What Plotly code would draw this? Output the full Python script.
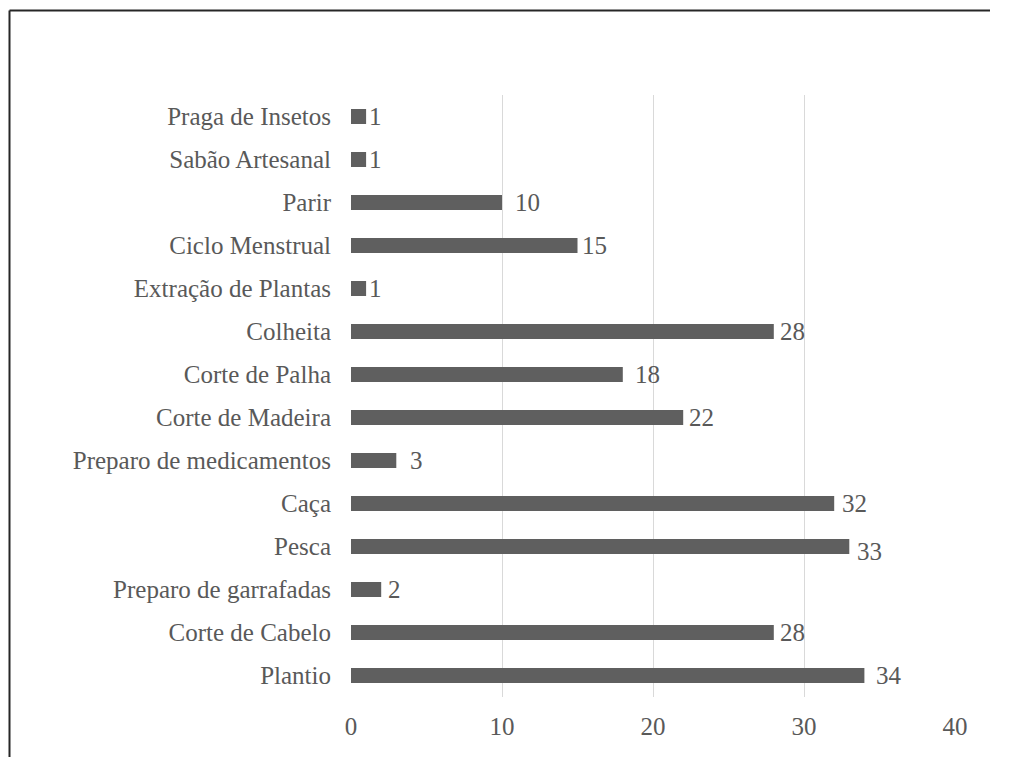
import plotly.graph_objects as go

# Activities (top to bottom) and number of mentions
categorias = [
    "Praga de Insetos",
    "Sabão Artesanal",
    "Parir",
    "Ciclo Menstrual",
    "Extração de Plantas",
    "Colheita",
    "Corte de Palha",
    "Corte de Madeira",
    "Preparo de medicamentos",
    "Caça",
    "Pesca",
    "Preparo de garrafadas",
    "Corte de Cabelo",
    "Plantio",
]
valores = [1, 1, 10, 15, 1, 28, 18, 22, 3, 32, 33, 2, 28, 34]

# Horizontal pixel gap between each bar end and its value label
label_gap = [1, 1, 11, 2, 1, 4, 10, 4, 12, 6, 6, 5, 4, 10]
label_drop = [0, 0, 0, 0, 0, 0, 0, 0, 0, 0, -5, 0, 0, 0]

x_ticks = [0, 10, 20, 30, 40]

FONT = "Liberation Serif"
FSIZE = 25
TEXT_COLOR = "#595959"
BAR_COLOR = "#5f5f5f"

fig = go.Figure()
fig.add_trace(go.Bar(
    x=valores,
    y=categorias,
    orientation="h",
    marker=dict(color=BAR_COLOR, line=dict(width=0)),
    width=0.35,
    hoverinfo="x+y",
))

for cat, val, gap, drop in zip(categorias, valores, label_gap, label_drop):
    fig.add_annotation(
        x=val, y=cat, xref="x", yref="y",
        text=str(val), showarrow=False,
        xanchor="left", yanchor="middle",
        xshift=gap, yshift=drop,
        font=dict(family=FONT, size=FSIZE, color=TEXT_COLOR),
    )

W, H = 1023, 757
L, R, T, B = 351, 68, 95, 60
pw, ph = W - L - R, H - T - B
# Outer frame: left and top edges of the chart container
bx = (9.5 - L) / pw
by = (H - B - 10.5) / ph
rx = (990 - L) / pw
bot = -B / ph
fig.add_shape(type="line", xref="paper", yref="paper",
              x0=bx, x1=bx, y0=bot, y1=by,
              line=dict(color="#262626", width=2))
fig.add_shape(type="line", xref="paper", yref="paper",
              x0=bx, x1=rx, y0=by, y1=by,
              line=dict(color="#262626", width=2))

fig.update_layout(
    width=W, height=H,
    margin=dict(l=L, r=R, t=T, b=B),
    paper_bgcolor="white",
    plot_bgcolor="white",
    showlegend=False,
    font=dict(family=FONT, size=FSIZE, color=TEXT_COLOR),
    xaxis=dict(
        range=[0, 40],
        tickvals=x_ticks,
        showgrid=True, gridcolor="#d9d9d9", gridwidth=1,
        zeroline=False, showline=False, ticks="",
        ticklabelstandoff=12,
        tickfont=dict(family=FONT, size=FSIZE, color=TEXT_COLOR),
        fixedrange=True,
    ),
    yaxis=dict(
        autorange="reversed",
        showgrid=False, zeroline=False, showline=False, ticks="",
        ticklabelstandoff=19,
        tickfont=dict(family=FONT, size=FSIZE, color=TEXT_COLOR),
        fixedrange=True,
    ),
)

fig.write_html("out.html")
